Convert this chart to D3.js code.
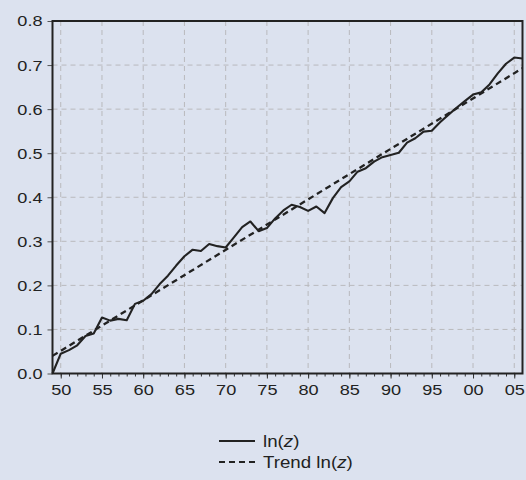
<!DOCTYPE html>
<html>
<head>
<meta charset="utf-8">
<script src="https://cdn.jsdelivr.net/npm/d3@7"></script>
<style>
  html, body { margin: 0; padding: 0; background: #dce2ef; }
  svg { display: block; font-family: "Liberation Sans", Arial, sans-serif; }
</style>
</head>
<body>
<svg id="chart" width="526" height="480"></svg>
<script>
// data
var years = [1949, 1950, 1951, 1952, 1953, 1954, 1955, 1956, 1957, 1958,
  1959, 1960, 1961, 1962, 1963, 1964, 1965, 1966, 1967, 1968,
  1969, 1970, 1971, 1972, 1973, 1974, 1975, 1976, 1977, 1978,
  1979, 1980, 1981, 1982, 1983, 1984, 1985, 1986, 1987, 1988,
  1989, 1990, 1991, 1992, 1993, 1994, 1995, 1996, 1997, 1998,
  1999, 2000, 2001, 2002, 2003, 2004, 2005, 2006];
var lnZ = [0.000, 0.045, 0.053, 0.064, 0.085, 0.091, 0.127, 0.120, 0.124, 0.121,
  0.158, 0.165, 0.180, 0.203, 0.222, 0.245, 0.266, 0.281, 0.278, 0.294,
  0.289, 0.286, 0.309, 0.332, 0.345, 0.323, 0.330, 0.352, 0.370, 0.383,
  0.378, 0.369, 0.379, 0.364, 0.398, 0.423, 0.436, 0.458, 0.466, 0.481,
  0.491, 0.496, 0.501, 0.524, 0.534, 0.549, 0.551, 0.570, 0.587, 0.603,
  0.618, 0.633, 0.638, 0.656, 0.681, 0.703, 0.717, 0.715];
var trendYears = [1949, 2006];
var trendValues = [0.040, 0.693];
var xTicks = [1950, 1955, 1960, 1965, 1970, 1975, 1980, 1985, 1990, 1995, 2000, 2005];
var yTicks = [0.0, 0.1, 0.2, 0.3, 0.4, 0.5, 0.6, 0.7, 0.8];

var svg = d3.select('#chart');
var m = { left: 52.5, right: 522.5, top: 21, bottom: 373.5 };
var sx = 1.17; // the original type is a bit wider than Liberation Sans

var x = d3.scaleLinear().domain([1949, 2006]).range([m.left, m.right]);
var y = d3.scaleLinear().domain([0, 0.8]).range([m.bottom, m.top]);

// grid
var grid = svg.append('g');
grid.selectAll('.vg').data(xTicks).enter().append('line')
  .attr('x1', function (d) { return x(d); }).attr('x2', function (d) { return x(d); })
  .attr('y1', m.top).attr('y2', m.bottom)
  .attr('stroke', '#b9b9bd').attr('stroke-width', 1).attr('stroke-dasharray', '5,4');
grid.selectAll('.hg').data(yTicks.slice(1, -1)).enter().append('line')
  .attr('y1', function (d) { return y(d); }).attr('y2', function (d) { return y(d); })
  .attr('x1', m.left).attr('x2', m.right)
  .attr('stroke', '#b9b9bd').attr('stroke-width', 1).attr('stroke-dasharray', '5,4');

// x axis: minor ticks every year, labels every 5
var xMinor = d3.axisBottom(x).tickValues(years.slice(1, -1)).tickSize(3).tickFormat('');
svg.append('g').attr('transform', 'translate(0,' + m.bottom + ')').call(xMinor)
  .call(function (g) { g.select('.domain').remove(); g.selectAll('line').attr('stroke', '#333'); });

var xAxis = d3.axisBottom(x).tickValues(xTicks).tickSize(5).tickPadding(6)
  .tickFormat(function (d) { return d3.format('02d')(d % 100); });
svg.append('g').attr('transform', 'translate(0,' + m.bottom + ')').call(xAxis)
  .call(function (g) {
    g.select('.domain').remove();
    g.selectAll('line').attr('stroke', '#333');
    g.selectAll('text').attr('font-size', 15.5).attr('fill', '#222')
      .attr('font-family', '"Liberation Sans", Arial, sans-serif')
      .attr('transform', 'scale(' + sx + ',1)');
  });

var yAxis = d3.axisLeft(y).tickValues(yTicks).tickSize(5).tickPadding(3.5)
  .tickFormat(d3.format('.1f'));
svg.append('g').attr('transform', 'translate(' + m.left + ',0)').call(yAxis)
  .call(function (g) {
    g.select('.domain').remove();
    g.selectAll('line').attr('stroke', '#555');
    g.selectAll('text').attr('font-size', 15.5).attr('fill', '#222')
      .attr('font-family', '"Liberation Sans", Arial, sans-serif')
      .attr('transform', 'scale(' + sx + ',1)');
  });

// frame
svg.append('rect')
  .attr('x', m.left).attr('y', m.top)
  .attr('width', m.right - m.left).attr('height', m.bottom - m.top)
  .attr('fill', 'none').attr('stroke', '#222').attr('stroke-width', 2);

// trend
var line = d3.line().x(function (d) { return x(d[0]); }).y(function (d) { return y(d[1]); });
svg.append('path')
  .datum(d3.zip(trendYears, trendValues))
  .attr('d', line)
  .attr('fill', 'none').attr('stroke', '#222').attr('stroke-width', 2.3)
  .attr('stroke-dasharray', '6,4');

// ln(z)
svg.append('path')
  .datum(d3.zip(years, lnZ))
  .attr('d', line)
  .attr('fill', 'none').attr('stroke', '#222').attr('stroke-width', 2.1)
  .attr('stroke-linejoin', 'round');

// legend
var legend = svg.append('g');
var items = [{ dash: null, pre: 'ln(', post: ')' }, { dash: '6,4', pre: 'Trend ln(', post: ')' }];
items.forEach(function (it, i) {
  var ly = 441 + i * 21;
  legend.append('line')
    .attr('x1', 219).attr('x2', 255).attr('y1', ly).attr('y2', ly)
    .attr('stroke', '#222').attr('stroke-width', 2)
    .attr('stroke-dasharray', it.dash);
  var t = legend.append('text').attr('x', 263 / sx).attr('y', ly + 6)
    .attr('transform', 'scale(' + sx + ',1)')
    .attr('font-size', 16).attr('fill', '#222');
  t.append('tspan').text(it.pre);
  t.append('tspan').attr('font-style', 'italic').text('z');
  t.append('tspan').text(it.post);
});
</script>
</body>
</html>
